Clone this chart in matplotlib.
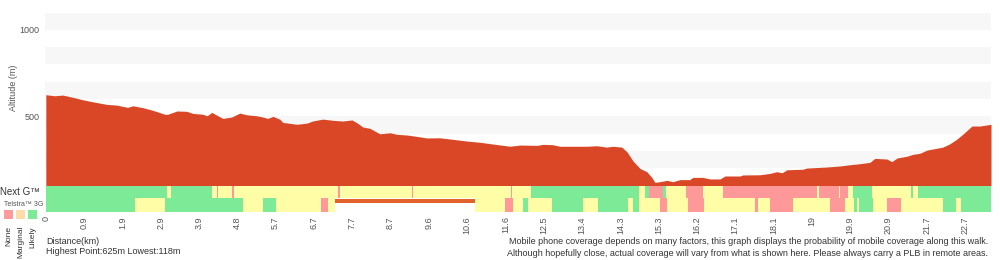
import numpy as np
import matplotlib.pyplot as plt
from matplotlib.patches import Rectangle

# altitude profile (distance in km, altitude in m)
dist_km = [0.00, 0.22, 0.42, 0.67, 0.91, 1.16, 1.51, 1.75, 2.02, 2.15, 2.40, 2.64, 2.94, 3.01,
           3.24, 3.48, 3.63, 3.88, 3.98, 4.10, 4.22, 4.37, 4.59, 4.79, 4.96, 5.21, 5.36, 5.48,
           5.61, 5.78, 5.85, 6.20, 6.45, 6.59, 6.84, 7.09, 7.33, 7.56, 7.70, 7.83, 8.00, 8.25,
           8.50, 8.67, 8.92, 9.16, 9.41, 9.73, 10.05, 10.40, 10.72, 11.04, 11.46, 11.71, 12.13,
           12.27, 12.52, 12.69, 13.36, 13.61, 13.85, 14.00, 14.22, 14.35, 14.50, 14.67, 14.84,
           14.97, 15.04, 15.16, 15.34, 15.48, 15.66, 15.90, 15.98, 16.22, 16.40, 16.65, 16.77,
           17.14, 17.21, 17.63, 17.88, 18.05, 18.18, 18.30, 18.69, 18.79, 19.29, 19.61, 19.85,
           20.10, 20.35, 20.47, 20.77, 20.89, 21.02, 21.26, 21.41, 21.58, 21.76, 21.90, 22.15,
           22.33, 22.50, 22.65, 22.87, 23.07, 23.34]
alt_m = [625, 619, 623, 610, 596, 584, 569, 565, 552, 561, 550, 535, 512, 512,
         531, 529, 517, 512, 503, 523, 507, 488, 496, 519, 509, 503, 496, 488,
         500, 483, 465, 454, 461, 473, 484, 477, 473, 479, 460, 438, 431, 399,
         405, 396, 392, 384, 375, 376, 367, 357, 350, 340, 327, 334, 332,
         338, 336, 327, 327, 330, 322, 327, 322, 295, 242, 199, 180,
         145, 118, 122, 130, 122, 134, 134, 147, 147, 138, 138, 155,
         155, 161, 162, 170, 180, 174, 191, 194, 201, 207, 213, 220,
         226, 234, 257, 253, 238, 259, 269, 280, 286, 305, 311, 322,
         342, 369, 398, 444, 444, 454]

tick_labels = ['0', '0.9', '1.9', '2.9', '3.9', '4.8', '5.7', '6.7', '7.7', '8.7', '9.6', '10.6',
               '11.6', '12.5', '13.4', '14.3', '15.3', '16.2', '17.1', '18.1', '19', '19.9',
               '20.9', '21.7', '22.7']
tick_step = 22.7 / 24

# coverage segments: edges (km) and level of each segment
# N = none, M = marginal, L = likely, - = no data
nextg_edges = [0.00, 2.99, 3.09, 4.10, 4.22, 4.25, 4.59, 4.64, 7.21, 7.26, 9.04, 9.06, 11.48,
               11.51, 11.98, 14.64, 14.79, 14.89, 15.24, 15.31, 15.80, 16.22, 16.72, 19.04,
               19.09, 19.58, 19.61, 19.81, 19.93, 20.40, 21.36, 21.41, 21.53, 23.34]
nextg_levels = ['L', 'M', 'L', 'M', 'N', 'M', 'N', 'M', 'N', 'M', 'N', 'M', 'N',
                'M', 'L', 'M', 'L', 'N', 'L', 'M', 'N', 'M', 'N', 'M',
                'N', 'M', 'N', 'M', 'L', 'M', 'L', 'M', 'L']
g3_edges = [0.00, 2.20, 2.94, 4.86, 5.36, 5.68, 6.79, 6.96, 7.14, 10.59, 11.34, 11.53, 11.78,
            11.90, 12.50, 13.26, 13.63, 14.37, 14.50, 14.64, 15.16, 15.33, 15.85, 16.25, 17.51,
            17.58, 17.88, 18.45, 19.36, 19.73, 19.95, 20.03, 20.08, 20.42, 20.77, 21.11, 22.15,
            22.47, 22.60, 23.34]
g3_levels = ['L', 'M', 'L', 'M', 'L', 'M', 'N', 'M', '-', 'M', 'N', 'M',
             'L', 'M', 'L', 'M', 'L', 'M', 'L', 'M', 'N', 'M', 'N', 'M',
             'N', 'M', 'N', 'M', 'N', 'M', 'L', 'M', 'L', 'M', 'N', 'M',
             'L', 'M', 'L']

level_colors = {'N': '#ff9999', 'M': '#fffea6', 'L': '#7dea98'}
fill_color = '#da4727'
text_color = '#555555'
xmin, xmax = -0.02, 23.34

plt.rcParams['font.family'] = ['Liberation Sans', 'DejaVu Sans']

fig = plt.figure(figsize=(10, 2.6), dpi=100)
ax = fig.add_axes([0.045, 0.2865, 0.946, 0.665])
cov = fig.add_axes([0.045, 0.1846, 0.946, 0.1019], sharex=ax)

# alternating background bands every 100 m
for lo in range(200, 1100, 200):
    ax.axhspan(lo, lo + 100, color='#f7f7f7', lw=0, zorder=0)
ax.fill_between(dist_km, alt_m, 100, color=fill_color, lw=0, zorder=2)
ax.set_ylim(100, 1100)
ax.set_xlim(xmin, xmax)
ax.set_yticks([500, 1000])
ax.tick_params(axis='y', length=0, pad=4, labelsize=6.5, labelcolor=text_color)
ax.tick_params(axis='x', bottom=False, labelbottom=False)
for s in ax.spines.values():
    s.set_visible(False)

# coverage rows (Next G on top, Telstra 3G below)
row_split = 0.547
for edges, levels, y0, h in [(nextg_edges, nextg_levels, row_split, 1 - row_split),
                             (g3_edges, g3_levels, 0, row_split)]:
    for a, b, lev in zip(edges[:-1], edges[1:], levels):
        if lev == '-':
            cov.add_patch(Rectangle((a, 0.34), b - a, 0.15, color='#e2622c', lw=0))
            continue
        cov.add_patch(Rectangle((a, y0), b - a, h, color=level_colors[lev], lw=0))
cov.set_ylim(0, 1)
cov.set_xlim(xmin, xmax)
cov.set_yticks([])
cov.set_xticks(np.arange(len(tick_labels)) * tick_step)
cov.set_xticklabels(tick_labels, rotation=90, va='top')
cov.tick_params(axis='x', length=0, pad=3, labelsize=6.5, labelcolor=text_color)
for s in cov.spines.values():
    s.set_visible(False)

# left labels and legend
fig.text(0.013, 1 - 88 / 260, 'Altitude (m)', rotation=90, ha='center', va='center',
         fontsize=6.5, color=text_color)
fig.text(0.0, 1 - 192 / 260, 'Next G\u2122', ha='left', va='center', fontsize=7, color='#333333')
fig.text(0.004, 1 - 204.5 / 260, 'Telstra\u2122 3G', ha='left', va='center', fontsize=5,
         color=text_color)
legend_items = [('None', '#ff9a9a'), ('Marginal', '#ffdba8'), ('Likely', '#7dea98')]
for i, (name, col) in enumerate(legend_items):
    x0 = 4 + i * 12.2
    fig.add_artist(Rectangle((x0 / 1000, 1 - 219 / 260), 8.5 / 1000, 9 / 260, color=col, lw=0,
                             transform=fig.transFigure))
    fig.text((x0 + 4.5) / 1000, 1 - 226 / 260, name, rotation=90, ha='center', va='top',
             fontsize=6.0, color='#333333')

# bottom notes
fig.text(0.046, 1 - 241 / 260, 'Distance(km)', ha='left', va='center', fontsize=6.5,
         color='#333333')
fig.text(0.046, 1 - 252 / 260, 'Highest Point:625m Lowest:118m', ha='left', va='center',
         fontsize=6.5, color='#333333')
fig.text(0.988, 1 - 242 / 260, 'Mobile phone coverage depends on many factors, this graph '
         'displays the probability of mobile coverage along this walk.', ha='right',
         va='center', fontsize=6.5, color='#333333')
fig.text(0.988, 1 - 253 / 260, 'Although hopefully close, actual coverage will vary from '
         'what is shown here. Please always carry a PLB in remote areas.', ha='right',
         va='center', fontsize=6.5, color='#333333')

fig.savefig('out.png', dpi=100)
